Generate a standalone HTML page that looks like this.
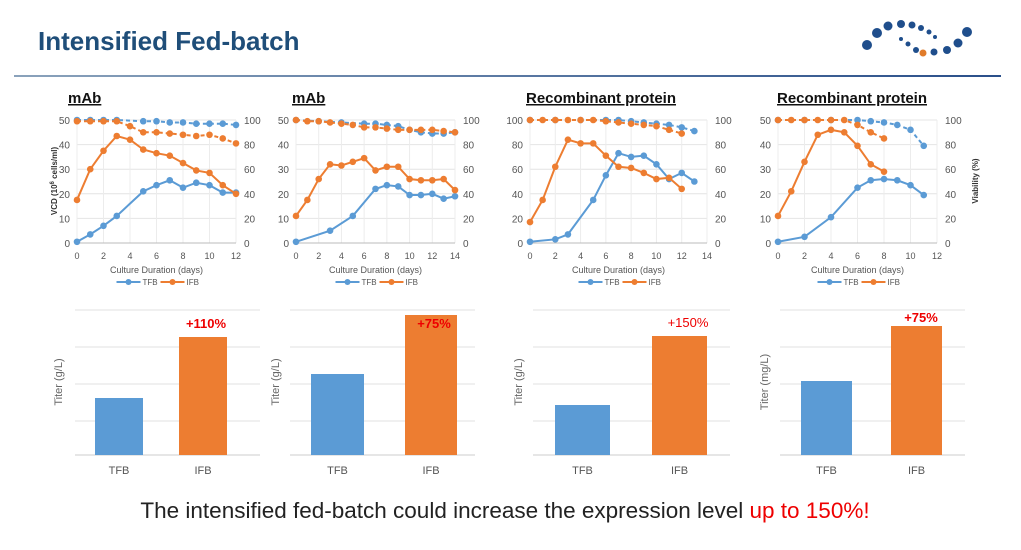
<!DOCTYPE html>
<html><head><meta charset="utf-8"><style>
body{margin:0;width:1021px;height:550px;background:#fff;overflow:hidden;font-family:"Liberation Sans",sans-serif}
svg{position:absolute;left:0;top:0}
</style></head><body>
<svg id="s" width="1021" height="550" xmlns="http://www.w3.org/2000/svg">
<defs><linearGradient id="g" x1="0" x2="1"><stop offset="0" stop-color="#8aa2bb"/><stop offset="1" stop-color="#2a4f8a"/></linearGradient></defs>
<text x="38" y="50" font-size="26" font-weight="bold" fill="#1F4E79">Intensified Fed-batch</text>
<rect x="14" y="75" width="987" height="2" fill="url(#g)"/>
<g fill="#1f4e8c">
<circle cx="867" cy="45" r="5"/><circle cx="877" cy="33" r="5"/><circle cx="888" cy="26" r="4.5"/><circle cx="901" cy="24" r="4"/><circle cx="912" cy="25" r="3.5"/><circle cx="921" cy="28" r="3"/><circle cx="929" cy="32" r="2.5"/><circle cx="935" cy="37" r="2"/>
<circle cx="901" cy="39" r="2"/><circle cx="908" cy="44" r="2.5"/><circle cx="916" cy="50" r="3"/><circle cx="934" cy="52" r="3.5"/><circle cx="947" cy="50" r="4"/><circle cx="958" cy="43" r="4.5"/><circle cx="967" cy="32" r="5"/>
</g><circle cx="923" cy="53" r="3.5" fill="#e07b2a"/>
<text x="505" y="518" font-size="22.5" text-anchor="middle" fill="#222">The intensified fed-batch could increase the expression level <tspan fill="#e00">up to 150%!</tspan></text>
</svg>
<script>
const S=document.getElementById('s'),NS='http://www.w3.org/2000/svg';
function el(t,a,txt){const e=document.createElementNS(NS,t);for(const k in a)e.setAttribute(k,a[k]);if(txt!=null)e.textContent=txt;S.appendChild(e);return e;}
const B='#5b9bd5',O='#ed7d31';
function line(cfg){
 const {x0,x1,xmax,xstep,ymax,ystep,title,tx,lt,rt,rtx,series}=cfg;
 const y0=243,y1=120;
 const X=v=>x0+(x1-x0)*v/xmax, Y=v=>y0-(y0-y1)*v/ymax, YR=v=>y0-(y0-y1)*v/100;
 el('text',{x:tx,y:103,'font-size':15,'font-weight':'bold','text-decoration':'underline',fill:'#111'},title);
 for(let v=0;v<=ymax;v+=ystep){el('line',{x1:x0,x2:x1,y1:Y(v),y2:Y(v),stroke:'#e4e4e4'});el('text',{x:x0-7,y:Y(v)+4,'font-size':10,'text-anchor':'end',fill:'#555'},v);}
 for(let v=0;v<=100;v+=20)el('text',{x:x1+8,y:YR(v)+4,'font-size':10,fill:'#555'},v);
 for(let v=0;v<=xmax;v+=xstep){el('line',{x1:X(v),x2:X(v),y1:y1,y2:y0,stroke:'#ececec'});el('text',{x:X(v),y:259,'font-size':9,'text-anchor':'middle',fill:'#555'},v);}
 el('line',{x1:x0,x2:x1,y1:y0,y2:y0,stroke:'#bbb'});
 const cx=(x0+x1)/2;
 el('text',{x:cx,y:273,'font-size':9,'text-anchor':'middle',fill:'#555'},'Culture Duration (days)');
 el('line',{x1:cx-40,x2:cx-16,y1:282,y2:282,stroke:B,'stroke-width':2});el('circle',{cx:cx-28,cy:282,r:3,fill:B});
 el('text',{x:cx-14,y:285,'font-size':8,fill:'#555'},'TFB');
 el('line',{x1:cx+4,x2:cx+28,y1:282,y2:282,stroke:O,'stroke-width':2});el('circle',{cx:cx+16,cy:282,r:3,fill:O});
 el('text',{x:cx+30,y:285,'font-size':8,fill:'#555'},'IFB');
 if(lt){const t=el('text',{x:0,y:0,'font-size':8,'font-weight':'bold','text-anchor':'middle',fill:'#333',transform:`translate(${x0-20},181) rotate(-90)`},'VCD (10');const s=document.createElementNS(NS,'tspan');s.setAttribute('dy','-3');s.setAttribute('font-size','6');s.textContent='6';t.appendChild(s);const s2=document.createElementNS(NS,'tspan');s2.setAttribute('dy','3');s2.textContent=' cells/ml)';t.appendChild(s2);}
 if(rt)el('text',{x:0,y:0,'font-size':8,'font-weight':'bold','text-anchor':'middle',fill:'#333',transform:`translate(${rtx},181) rotate(-90)`},'Viability (%)');
 series.forEach(([d,c,dash])=>{const f=dash?YR:Y;const p=d.map(q=>X(q[0])+','+f(q[1])).join(' ');
  el('polyline',{points:p,fill:'none',stroke:c,'stroke-width':2,'stroke-dasharray':dash?'4,3':'none'});
  d.forEach(q=>el('circle',{cx:X(q[0]),cy:f(q[1]),r:3.3,fill:c}));});
}
line({x0:77,x1:236,xmax:12,xstep:2,ymax:50,ystep:10,title:'mAb',tx:68,lt:1,series:[
 [[[0,100],[1,100],[2,100],[3,100],[5,99],[6,99],[7,98],[8,98],[9,97],[10,97],[11,97],[12,96]],B,1],
 [[[0,99],[1,99],[2,99],[3,99],[4,95],[5,90],[6,90],[7,89],[8,88],[9,87],[10,88],[11,85],[12,81]],O,1],
 [[[0,.5],[1,3.5],[2,7],[3,11],[5,21],[6,23.5],[7,25.5],[8,22.5],[9,24.5],[10,23.5],[11,20.5],[12,20.5]],B],
 [[[0,17.5],[1,30],[2,37.5],[3,43.5],[4,42],[5,38],[6,36.5],[7,35.5],[8,32.5],[9,29.5],[10,28.5],[11,23.5],[12,20]],O]]});
line({x0:296,x1:455,xmax:14,xstep:2,ymax:50,ystep:10,title:'mAb',tx:292,series:[
 [[[0,100],[2,99],[4,98],[6,97],[7,97],[8,96],[9,95],[10,92],[11,90],[12,89],[13,89],[14,90]],B,1],
 [[[0,100],[1,99],[2,99],[3,98],[4,97],[5,96],[6,94],[7,94],[8,93],[9,92],[10,92],[11,92],[12,92],[13,91],[14,90]],O,1],
 [[[0,.5],[3,5],[5,11],[7,22],[8,23.5],[9,23],[10,19.5],[11,19.5],[12,20],[13,18],[14,19]],B],
 [[[0,11],[1,17.5],[2,26],[3,32],[4,31.5],[5,33],[6,34.5],[7,29.5],[8,31],[9,31],[10,26],[11,25.5],[12,25.5],[13,26],[14,21.5]],O]]});
line({x0:530,x1:707,xmax:14,xstep:2,ymax:100,ystep:20,title:'Recombinant protein',tx:526,series:[
 [[[0,100],[2,100],[4,100],[6,100],[7,100],[8,99],[9,98],[10,97],[11,96],[12,94],[13,91]],B,1],
 [[[0,100],[1,100],[2,100],[3,100],[4,100],[5,100],[6,99],[7,98],[8,97],[9,96],[10,95],[11,92],[12,89]],O,1],
 [[[0,1],[2,3],[3,7],[5,35],[6,55],[7,73],[8,70],[9,71],[10,64],[11,52],[12,57],[13,50]],B],
 [[[0,17],[1,35],[2,62],[3,84],[4,81],[5,81],[6,71],[7,62],[8,61],[9,57],[10,52],[11,53],[12,44]],O]]});
line({x0:778,x1:937,xmax:12,xstep:2,ymax:50,ystep:10,title:'Recombinant protein',tx:777,rt:1,rtx:978,series:[
 [[[0,100],[2,100],[4,100],[6,100],[7,99],[8,98],[9,96],[10,92],[11,79]],B,1],
 [[[0,100],[1,100],[2,100],[3,100],[4,100],[5,100],[6,96],[7,90],[8,85]],O,1],
 [[[0,.5],[2,2.5],[4,10.5],[6,22.5],[7,25.5],[8,26],[9,25.5],[10,23.5],[11,19.5]],B],
 [[[0,11],[1,21],[2,33],[3,44],[4,46],[5,45],[6,39.5],[7,32],[8,29]],O]]});
function bar(c){
 const{gx0,gx1,grid,t,i,lab,lx,yl,ly}=c;
 grid.forEach(y=>el('line',{x1:gx0,x2:gx1,y1:y,y2:y,stroke:'#e0e0e0'}));
 el('line',{x1:gx0,x2:gx1,y1:455,y2:455,stroke:'#ccc'});
 el('rect',{x:t[0],y:t[2],width:t[1]-t[0],height:455-t[2],fill:B});
 el('rect',{x:i[0],y:i[2],width:i[1]-i[0],height:455-i[2],fill:O});
 el('text',{x:(t[0]+t[1])/2,y:474,'font-size':11,'text-anchor':'middle',fill:'#555'},'TFB');
 el('text',{x:(i[0]+i[1])/2,y:474,'font-size':11,'text-anchor':'middle',fill:'#555'},'IFB');
 el('text',{x:lx,y:ly,'font-size':13,'font-weight':c.bold?'bold':'normal','text-anchor':'middle',fill:'#e00'},lab);
 el('text',{x:0,y:0,'font-size':11,'text-anchor':'middle',fill:'#666',transform:`translate(${yl},382) rotate(-90)`},c.yt||'Titer (g/L)');
}
bar({gx0:75,gx1:260,grid:[310,347,384,421],t:[95,143,398],i:[179,227,337],lab:'+110%',lx:206,ly:328,yl:62,bold:1});
bar({gx0:290,gx1:475,grid:[310,347,384,421],t:[311,364,374],i:[405,457,315],lab:'+75%',lx:434,ly:328,yl:279,bold:1});
bar({gx0:533,gx1:730,grid:[310,347,384,421],t:[555,610,405],i:[652,707,336],lab:'+150%',lx:688,ly:327,yl:522});
bar({gx0:780,gx1:965,grid:[310,347,384,421],t:[801,852,381],i:[891,942,326],lab:'+75%',lx:921,ly:322,yl:768,yt:'Titer (mg/L)',bold:1});
</script>
</body></html>
